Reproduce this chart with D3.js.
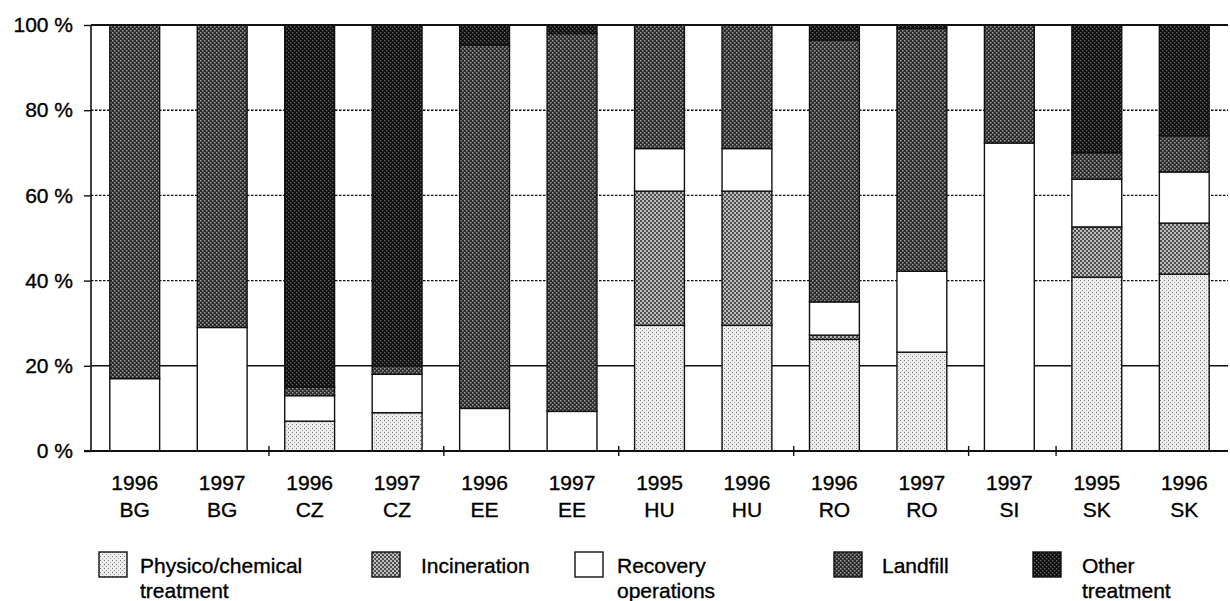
<!DOCTYPE html>
<html>
<head>
<meta charset="UTF-8">
<title>Waste treatment</title>
<script src="https://d3js.org/d3.v7.min.js"></script>
<style>
  body { margin: 0; background: #fff; }
  text { font-family: 'Liberation Sans', Arial, sans-serif; fill: #000; stroke: #000; stroke-width: 0.35px; }
</style>
</head>
<body>
<div class="canvas"></div>
<script>
  // categories
  const years = ['1996', '1997', '1996', '1997', '1996', '1997', '1995', '1996', '1996', '1997', '1997', '1995', '1996']
  const countries = ['BG', 'BG', 'CZ', 'CZ', 'EE', 'EE', 'HU', 'HU', 'RO', 'RO', 'SI', 'SK', 'SK']

  // shares in % (stacked bottom to top)
  const physico      = [0, 0, 7, 9, 0, 0, 29.5, 29.5, 26.2, 23.2, 0, 40.8, 41.5]
  const incineration = [0, 0, 0, 0, 0, 0, 31.5, 31.5, 1, 0, 0, 11.8, 12]
  const recovery     = [17, 29, 6, 9, 10, 9.3, 10, 10, 7.8, 19, 72.3, 11.2, 12]
  const landfill     = [83, 71, 2, 2, 85.3, 88.7, 29, 29, 61.5, 57, 27.7, 6.2, 8.5]
  const other        = [0, 0, 85, 80, 4.7, 2, 0, 0, 3.5, 0.8, 0, 30, 26]

  const yTicks = [0, 20, 40, 60, 80, 100]
  const legendLabels = [['Physico/chemical', 'treatment'], ['Incineration'], ['Recovery', 'operations'], ['Landfill'], ['Other', 'treatment']]

  const keys = ['physico', 'incineration', 'recovery', 'landfill', 'other']
  const series = { physico, incineration, recovery, landfill, other }
  const rows = years.map((yr, i) => {
    const r = { i }
    keys.forEach(k => r[k] = series[k][i])
    return r
  })

  const svg = d3.select('.canvas')
    .append('svg')
    .attr('width', 1230)
    .attr('height', 601)

  // halftone-like fills
  const defs = svg.append('defs')
  function checker(id, bg, fg, size) {
    const p = defs.append('pattern').attr('id', id)
      .attr('width', 4).attr('height', 4).attr('patternUnits', 'userSpaceOnUse')
    p.append('rect').attr('width', 4).attr('height', 4).attr('fill', bg)
    p.append('rect').attr('x', 0).attr('y', 0).attr('width', size).attr('height', size).attr('fill', fg)
    p.append('rect').attr('x', 2).attr('y', 2).attr('width', size).attr('height', size).attr('fill', fg)
  }
  const dots = defs.append('pattern').attr('id', 'p-physico')
    .attr('width', 4).attr('height', 4).attr('patternUnits', 'userSpaceOnUse')
  dots.append('rect').attr('width', 4).attr('height', 4).attr('fill', '#ececec')
  dots.append('rect').attr('x', 0).attr('y', 0).attr('width', 1).attr('height', 1).attr('fill', '#808080')
  dots.append('rect').attr('x', 2).attr('y', 2).attr('width', 1).attr('height', 1).attr('fill', '#a8a8a8')
  checker('p-incineration', '#bcbcbc', '#505050', 2)
  checker('p-landfill', '#2c2c2c', '#9a9a9a', 1.5)
  checker('p-other', '#101010', '#666', 1.3)
  const fills = {
    physico: 'url(#p-physico)', incineration: 'url(#p-incineration)', recovery: '#fff',
    landfill: 'url(#p-landfill)', other: 'url(#p-other)'
  }

  const plotL = 91, plotR = 1228, plotT = 25, plotB = 451

  const x = d3.scaleBand()
    .domain(d3.range(years.length))
    .range([plotL, plotR])
    .paddingInner(0.43)
    .paddingOuter(0.215)

  const y = d3.scaleLinear().domain([0, 100]).range([plotB, plotT])

  // gridlines
  svg.append('g')
    .selectAll('line')
    .data(yTicks.filter(d => d > 0 && d < 100))
    .enter()
    .append('line')
    .attr('x1', plotL).attr('x2', plotR)
    .attr('y1', d => y(d)).attr('y2', d => y(d))
    .attr('stroke', '#111')
    .attr('stroke-width', 1.4)
    .attr('stroke-dasharray', d => d === 20 ? null : '2.5,1.5')

  // stacked bars
  const stacked = d3.stack().keys(keys)(rows)
  svg.append('g')
    .selectAll('g')
    .data(stacked)
    .enter()
    .append('g')
    .attr('fill', d => fills[d.key])
    .selectAll('rect')
    .data(d => d.filter(s => s[1] - s[0] > 0))
    .enter()
    .append('rect')
    .attr('x', d => x(d.data.i))
    .attr('width', x.bandwidth())
    .attr('y', d => y(d[1]))
    .attr('height', d => y(d[0]) - y(d[1]))
    .attr('stroke', '#111')
    .attr('stroke-width', 1.4)

  // top line and axes
  svg.append('line')
    .attr('x1', plotL).attr('x2', plotR).attr('y1', y(100)).attr('y2', y(100))
    .attr('stroke', '#111').attr('stroke-width', 1.8)
  svg.append('line')
    .attr('x1', plotL).attr('x2', plotL).attr('y1', plotT).attr('y2', plotB)
    .attr('stroke', '#111').attr('stroke-width', 1.6)
  svg.append('line')
    .attr('x1', plotL - 7).attr('x2', plotR).attr('y1', plotB).attr('y2', plotB)
    .attr('stroke', '#111').attr('stroke-width', 1.8)

  const yAxis = svg.append('g')
    .attr('transform', `translate(${plotL}, 0)`)
    .call(d3.axisLeft(y).tickValues(yTicks).tickSize(7).tickPadding(11).tickFormat(d => d + ' %'))
  yAxis.select('.domain').remove()
  yAxis.selectAll('line').attr('stroke', '#111').attr('stroke-width', 1.4)
  yAxis.selectAll('text')
    .style('font-family', "'Liberation Sans', Arial, sans-serif")
    .style('font-size', '21px')
    .attr('fill', '#000')

  // group separator ticks on the x axis
  const step = x.step()
  const groupBreaks = d3.range(1, years.length).filter(i => countries[i] !== countries[i - 1])
  svg.append('g')
    .selectAll('line')
    .data(groupBreaks)
    .enter()
    .append('line')
    .attr('x1', i => x(i) - (step - x.bandwidth()) / 2 + 3)
    .attr('x2', i => x(i) - (step - x.bandwidth()) / 2 + 3)
    .attr('y1', plotB - 5).attr('y2', plotB + 5)
    .attr('stroke', '#111').attr('stroke-width', 1.4)

  // category labels
  const labels = svg.append('g')
    .selectAll('text')
    .data(rows)
    .enter()
    .append('text')
    .attr('text-anchor', 'middle')
    .style('font-size', '21px')
  labels.append('tspan')
    .attr('x', d => x(d.i) + x.bandwidth() / 2).attr('y', 490)
    .text(d => years[d.i])
  labels.append('tspan')
    .attr('x', d => x(d.i) + x.bandwidth() / 2).attr('y', 517)
    .text(d => countries[d.i])

  // legend
  const legendX = [99, 372, 575, 834, 1033]
  const textX = [140, 421, 617, 882, 1082]
  const legend = svg.append('g')
    .selectAll('g')
    .data(keys)
    .enter()
    .append('g')
  legend.append('rect')
    .attr('x', (d, i) => legendX[i])
    .attr('y', 552)
    .attr('width', 28)
    .attr('height', 25)
    .attr('fill', d => fills[d])
    .attr('stroke', '#111')
    .attr('stroke-width', 1.4)
  legend.append('text')
    .style('font-size', '21px')
    .selectAll('tspan')
    .data((d, i) => legendLabels[i].map(t => ({ t, i })))
    .enter()
    .append('tspan')
    .attr('x', d => textX[d.i])
    .attr('y', (d, j) => 573 + j * 25)
    .text(d => d.t)
</script>
</body>
</html>
